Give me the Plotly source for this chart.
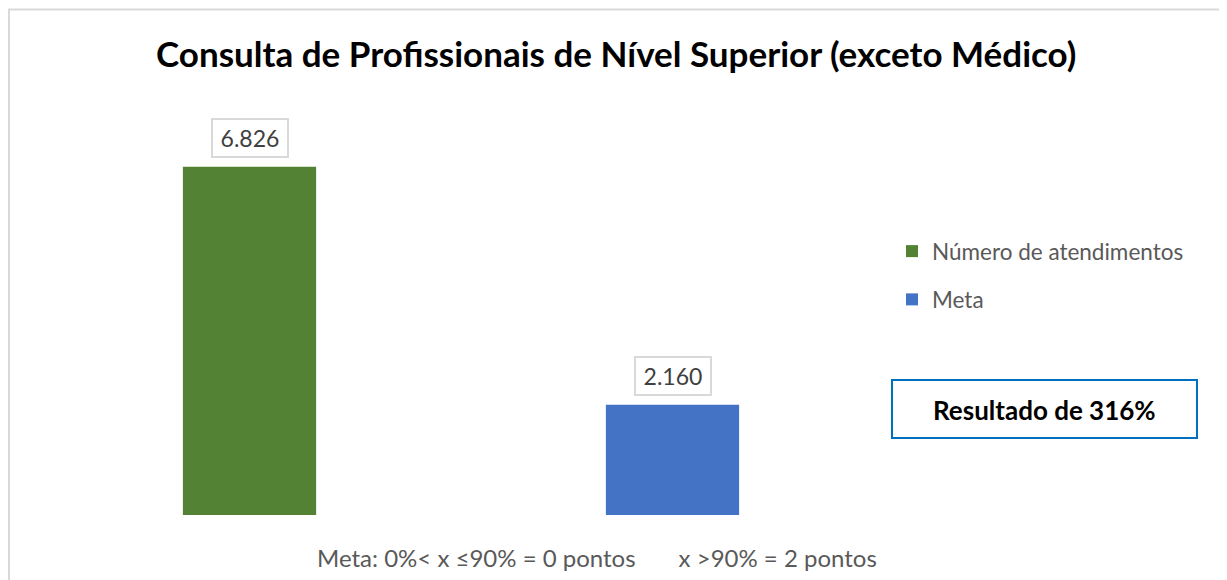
import plotly.graph_objects as go

categories = ["Número de atendimentos", "Meta"]
values = [6826, 2160]
labels = ["6.826", "2.160"]
colors = ["#548235", "#4472C4"]
title_text = "Consulta de Profissionais de Nível Superior (exceto Médico)"
result_text = "Resultado de 316%"
footer_text = "Meta: 0%< x ≤90% = 0 pontos       x >90% = 2 pontos"

FONT = "Lato"
OFF = 8  # page body margin
W, H = 1227 - OFF, 580 - OFF
L, R, T, B = 38 - OFF, 343, 107 - OFF, 65
PW, PH = W - L - R, H - T - B


def px(x):  # page pixel -> paper fraction
    return (x - OFF - L) / PW


def py(y):
    return (H - B - (y - OFF)) / PH


fig = go.Figure()
for i, (cat, val, col) in enumerate(zip(categories, values, colors)):
    fig.add_trace(go.Bar(
        x=[cat], y=[val], name=cat, marker=dict(color=col, line=dict(width=0)),
        width=0.315, legendgroup=f"g{i}", showlegend=True, hoverinfo="x+y",
    ))
    fig.add_annotation(
        x=cat, y=val, xref="x", yref="y", text=labels[i], showarrow=False,
        yanchor="bottom", yshift=9, font=dict(family=FONT, size=23, color="#404040"),
        bordercolor="#d9d9d9", borderwidth=2, borderpad=5, bgcolor="white",
        width=64, height=26,
    )

fig.update_layout(
    width=W, height=H,
    margin=dict(l=L, r=R, t=T, b=B),
    paper_bgcolor="white", plot_bgcolor="white",
    barmode="overlay",
    showlegend=True,
    legend=dict(
        x=px(892), y=py(230), xanchor="left", yanchor="top",
        font=dict(family=FONT, size=22.5, color="#595959"),
        traceorder="grouped", tracegroupgap=16,
        itemwidth=30, bgcolor="rgba(0,0,0,0)",
    ),
    xaxis=dict(visible=False, range=[-0.5, 1.5]),
    yaxis=dict(visible=False, range=[0, 8000]),
    font=dict(family=FONT),
)

fig.add_annotation(
    x=px(616), y=py(53), xref="paper", yref="paper", text=f"<b>{title_text}</b>",
    showarrow=False, xanchor="center", yanchor="middle",
    font=dict(family=FONT, size=35, color="black"),
)
# result box
fig.add_shape(type="rect", xref="paper", yref="paper",
              x0=px(892), x1=px(1197), y0=py(438), y1=py(380),
              line=dict(color="#0070C0", width=2), fillcolor="white")
fig.add_annotation(
    x=px((892 + 1197) / 2), y=py(410), xref="paper", yref="paper",
    text=f"<b>{result_text}</b>", showarrow=False, xanchor="center", yanchor="middle",
    font=dict(family=FONT, size=26, color="black"),
)
fig.add_annotation(
    x=px(597), y=py(557), xref="paper", yref="paper",
    text=footer_text, showarrow=False, xanchor="center", yanchor="middle",
    font=dict(family=FONT, size=24, color="#595959"),
)
# chart outer border
fig.add_shape(type="rect", xref="paper", yref="paper",
              x0=px(9), x1=px(1223), y0=py(600), y1=py(9.5),
              line=dict(color="#d9d9d9", width=2), fillcolor="rgba(0,0,0,0)", layer="below")

fig.write_html("out.html")
